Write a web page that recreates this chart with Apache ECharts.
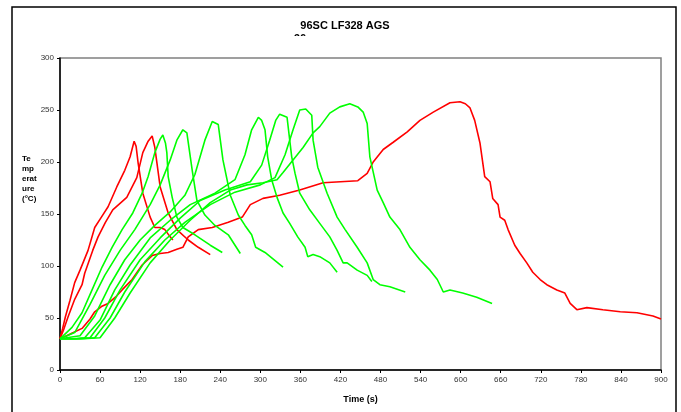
<!DOCTYPE html>
<html><head><meta charset="utf-8">
<script src="https://cdn.jsdelivr.net/npm/echarts@6/dist/echarts.min.js"></script>
<style>html,body{margin:0;padding:0;background:#fff}#c{width:681px;height:412px}</style>
</head><body><div id="c"></div>
<script>
const xTicks = [0,60,120,180,240,300,360,420,480,540,600,660,720,780,840,900];
const yTicks = [0,50,100,150,200,250,300];

const redA = [[0,30],[4,40],[8,51],[15,67],[22,84],[30,96],[42,115],[52,137],[62,147],[72,157],[85,176],[97,192],[105,205],[111,220],[114,215],[117,199],[124,170],[135,147],[142,137],[150,137],[157,135],[165,128],[169,125]];
const redB = [[0,30],[5,38],[12,51],[22,68],[33,82],[37,93],[49,115],[57,128],[68,142],[79,154],[100,166],[115,185],[124,209],[132,220],[138,225],[142,214],[150,176],[162,151],[175,135],[192,125],[207,118],[225,111]];
const redC = [[0,30],[10,33],[20,36],[33,40],[45,49],[52,56],[62,61],[72,64],[83,70],[93,77],[108,87],[123,101],[138,110],[150,112],[162,113],[175,116],[184,118],[192,128],[207,135],[228,137],[252,142],[273,147],[285,159],[304,165],[329,168],[359,173],[394,180],[420,181],[446,182],[460,189],[469,200],[484,212],[499,219],[520,229],[539,240],[559,248],[584,257],[599,258],[607,256],[614,252],[621,240],[629,218],[636,186],[644,181],[648,165],[656,159],[659,147],[666,144],[671,135],[681,120],[689,112],[699,103],[708,94],[719,87],[729,82],[744,77],[756,74],[764,64],[774,58],[789,60],[813,58],[839,56],[864,55],[888,52],[900,49]];

const g1 = [[0,30],[18,41],[33,55],[48,77],[63,99],[78,118],[93,135],[109,151],[123,170],[132,186],[142,209],[150,222],[154,226],[158,218],[160,209],[162,186],[168,166],[175,147],[184,137],[202,130],[225,120],[243,113]];
const g2 = [[0,30],[22,36],[45,63],[67,91],[90,115],[112,135],[135,159],[150,178],[165,202],[175,221],[184,231],[190,228],[198,192],[205,163],[217,149],[232,139],[252,130],[270,112]];
const g3 = [[0,30],[30,33],[52,52],[75,82],[97,106],[120,125],[142,139],[165,152],[187,168],[202,188],[217,221],[228,239],[237,236],[244,202],[255,168],[267,149],[277,139],[287,130],[293,118],[307,113],[334,99]];
const g4 = [[0,30],[20,30],[37,31],[60,48],[82,77],[105,101],[135,127],[165,144],[195,159],[232,170],[262,183],[277,207],[287,231],[297,243],[302,240],[307,231],[311,205],[317,183],[325,166],[334,151],[344,141],[356,128],[367,118],[371,109],[379,111],[389,109],[404,103],[415,94]];
const g5 = [[0,30],[25,30],[45,31],[67,50],[90,77],[120,106],[150,127],[180,146],[210,163],[247,173],[285,181],[302,197],[314,221],[323,240],[329,246],[340,243],[344,221],[347,205],[352,189],[359,170],[374,154],[389,141],[404,128],[415,115],[424,103],[430,103],[445,96],[460,91],[467,85]];
const g6 = [[0,30],[30,30],[52,31],[75,50],[97,75],[127,104],[157,125],[187,142],[225,159],[262,171],[300,178],[322,185],[337,207],[349,231],[359,250],[368,251],[377,245],[379,221],[386,195],[400,170],[415,147],[427,135],[445,118],[460,103],[469,87],[479,82],[494,80],[517,75]];
const g7 = [[0,30],[35,30],[60,31],[82,50],[105,74],[135,103],[165,125],[195,144],[225,161],[255,173],[280,178],[304,180],[325,183],[334,190],[349,202],[364,214],[379,228],[389,234],[404,247],[419,253],[434,256],[446,253],[454,248],[460,237],[464,205],[475,173],[484,161],[494,147],[509,135],[524,118],[539,106],[554,96],[565,87],[574,75],[584,77],[603,74],[624,70],[647,64]];

const RED = '#ff0000', GREEN = '#00ff00';
const FONT = 'Liberation Sans';
function mk(data, color){
  return {type:'line', data, showSymbol:false, symbol:'none', smooth:false,
    lineStyle:{color, width:1.6}, itemStyle:{color}, animation:false, z:3};
}
const chart = echarts.init(document.getElementById('c'), null, {renderer:'canvas'});
chart.setOption({
  animation:false,
  backgroundColor:'#fff',
  title:{text:'96SC LF328 AGS', left:340, top:15, textAlign:'center',
    textStyle:{fontFamily:FONT, fontSize:11, fontWeight:'bold', color:'#000'}},
  grid:{left:60, right:20, top:58, bottom:42, show:true, borderColor:'#808080', borderWidth:1.5, backgroundColor:'#fff'},
  xAxis:{type:'value', min:0, max:900, interval:60,
    name:'Time (s)', nameLocation:'middle', nameGap:25,
    nameTextStyle:{fontFamily:FONT, fontSize:9, fontWeight:'bold', color:'#000'},
    axisLine:{show:true, lineStyle:{color:'#000', width:1.5}},
    axisTick:{show:true, length:3, lineStyle:{color:'#000'}},
    axisLabel:{fontFamily:FONT, fontSize:8, color:'#333', margin:6},
    splitLine:{show:false}},
  yAxis:{type:'value', min:0, max:300, interval:50,
    axisLine:{show:true, lineStyle:{color:'#000', width:1.5}},
    axisTick:{show:true, length:3, lineStyle:{color:'#000'}},
    axisLabel:{fontFamily:FONT, fontSize:8, color:'#333', margin:6},
    splitLine:{show:false}},
  graphic:[
    {type:'rect', shape:{x:12, y:7, width:664, height:420}, style:{fill:null, stroke:'#000', lineWidth:1.5}, silent:true, z:-1},
    {type:'text', left:294, top:33, z:1, style:{text:'96', font:'bold 11px "Liberation Sans"', fill:'#000'}},
    {type:'rect', shape:{x:280, y:36, width:60, height:18}, style:{fill:'#fff'}, silent:true, z:2},
    {type:'text', left:22, top:154, style:{text:'Te\nmp\nerat\nure\n(°C)', font:'bold 8px "Liberation Sans"', fill:'#000', lineHeight:10}}
  ],
  series:[mk(redA,RED), mk(redB,RED), mk(redC,RED), mk(g1,GREEN), mk(g2,GREEN), mk(g3,GREEN), mk(g4,GREEN), mk(g5,GREEN), mk(g6,GREEN), mk(g7,GREEN)]
});
</script></body></html>
